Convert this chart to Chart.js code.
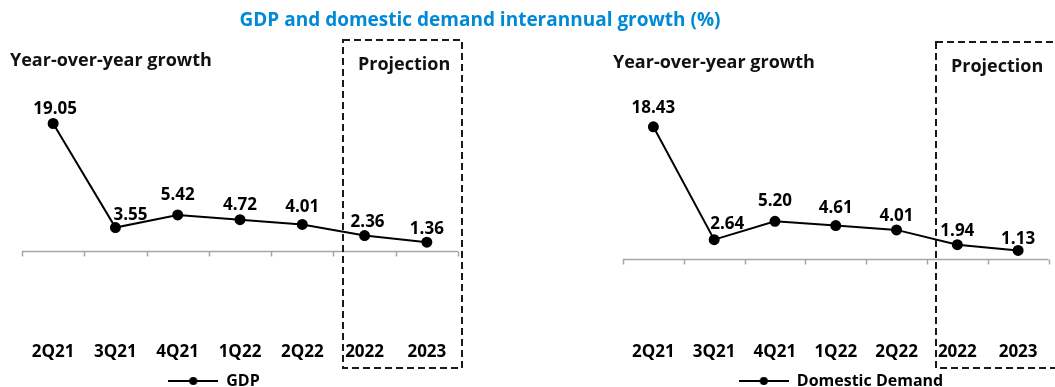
<!DOCTYPE html>
<html>
<head>
<meta charset="utf-8">
<script src="https://cdn.jsdelivr.net/npm/chart.js@4.4.1/dist/chart.umd.min.js"></script>
<style>
  body { margin: 0; background: #fff; }
  #wrap { position: relative; width: 1055px; height: 387px; overflow: hidden; }
  #title {
    position: absolute; top: 6px; left: 0; width: 960px; text-align: center;
    font: bold 19px "Open Sans", sans-serif; color: #0089d6; z-index: 2;
  }
  canvas { position: absolute; top: 0; }
</style>
</head>
<body>
<div id="wrap">
  <div id="title">GDP and domestic demand interannual growth (%)</div>
  <canvas id="gdpChart" width="527" height="387" style="left:0"></canvas>
  <canvas id="ddChart" width="528" height="387" style="left:527px"></canvas>
</div>
<script>
const periods = ["2Q21", "3Q21", "4Q21", "1Q22", "2Q22", "2022", "2023"];
const gdpGrowth = [19.05, 3.55, 5.42, 4.72, 4.01, 2.36, 1.36];
const domesticDemand = [18.43, 2.64, 5.20, 4.61, 4.01, 1.94, 1.13];

const axisTitle = "Year-over-year growth";
const projectionLabel = "Projection";

const FONT = '"Open Sans", sans-serif';

// little line-with-dot marker used as the legend symbol
function makeMarker() {
  const c = document.createElement("canvas");
  c.width = 50; c.height = 10;
  const g = c.getContext("2d");
  g.strokeStyle = "#000"; g.lineWidth = 2;
  g.beginPath(); g.moveTo(0, 5); g.lineTo(50, 5); g.stroke();
  g.fillStyle = "#000";
  g.beginPath(); g.arc(25, 5, 4, 0, Math.PI * 2); g.fill();
  return c;
}
const marker = makeMarker();

// zero line with category tick marks, like an axis crossing at 0
const zeroAxis = {
  id: "zeroAxis",
  beforeDatasetsDraw(chart) {
    const { ctx, chartArea } = chart;
    const x = chart.scales.x, y = chart.scales.y;
    const y0 = Math.round(y.getPixelForValue(0)) + 0.5;
    ctx.save();
    ctx.strokeStyle = "#a6a6a6";
    ctx.lineWidth = 1.5;
    ctx.beginPath();
    ctx.moveTo(chartArea.left, y0);
    ctx.lineTo(chartArea.right, y0);
    for (let i = 0; i <= chart.data.labels.length; i++) {
      const tx = Math.round(x.getPixelForValue(i - 0.5)) + 0.5;
      ctx.moveTo(tx, y0);
      ctx.lineTo(tx, y0 + 5);
    }
    ctx.stroke();
    ctx.restore();
  }
};

// dashed frame around the projected years, plus the two captions
const frames = {
  id: "frames",
  afterDatasetsDraw(chart, args, opts) {
    const { ctx, chartArea } = chart;
    const x = chart.scales.x;
    const left = Math.round(x.getPixelForValue(opts.from));
    const right = Math.round(x.getPixelForValue(opts.to));
    const top = chartArea.top - opts.above;
    const bottom = chart.height - 19;
    ctx.save();
    ctx.strokeStyle = "#1a1a1a";
    ctx.lineWidth = 2;
    ctx.setLineDash([7, 4]);
    ctx.strokeRect(left, top, right - left, bottom - top);
    ctx.setLineDash([]);
    ctx.fillStyle = "#111";
    ctx.font = "bold 18px " + FONT;
    ctx.textBaseline = "middle";
    ctx.textAlign = "left";
    ctx.fillText(projectionLabel, left + 15, top + 25);
    ctx.fillText(axisTitle, opts.titleX, top + 21);
    ctx.restore();
  }
};

// value labels above each point
const valueLabels = {
  id: "valueLabels",
  afterDatasetsDraw(chart, args, opts) {
    const { ctx } = chart;
    const meta = chart.getDatasetMeta(0);
    const values = chart.data.datasets[0].data;
    ctx.save();
    ctx.font = "bold 17px " + FONT;
    ctx.fillStyle = "#000";
    ctx.textAlign = "center";
    ctx.textBaseline = "middle";
    meta.data.forEach((pt, i) => {
      const [dx, dy] = opts.nudge[i];
      ctx.fillText(values[i].toFixed(2), pt.x + dx, pt.y - dy);
    });
    ctx.restore();
  }
};

// move the legend after layout
const legendShift = {
  id: "legendShift",
  afterLayout(chart, args, opts) {
    chart.legend.left += opts.dx;
    chart.legend.right += opts.dx;
    chart.legend.top += opts.dy;
    chart.legend.bottom += opts.dy;
  }
};

function buildChart(id, label, values, cfg) {
  return new Chart(document.getElementById(id), {
    type: "line",
    data: {
      labels: periods,
      datasets: [{
        label: label,
        data: values,
        borderColor: "#000",
        backgroundColor: "#000",
        borderWidth: 2,
        pointRadius: 4.5,
        pointHoverRadius: 4.5,
        tension: 0
      }]
    },
    options: {
      responsive: false,
      animation: false,
      devicePixelRatio: 1,
      layout: { padding: cfg.padding },
      scales: {
        x: {
          offset: true,
          grid: { display: false, drawTicks: false, offset: true },
          border: { display: false },
          ticks: { color: "#000", font: { family: FONT, size: 17, weight: "bold" }, padding: 3 }
        },
        y: { display: false, min: cfg.min, max: cfg.max }
      },
      plugins: {
        legend: {
          position: "bottom",
          labels: {
            usePointStyle: true,
            pointStyleWidth: 50,
            padding: 0,
            color: "#000",
            font: { family: FONT, size: 16, weight: "bold" },
            generateLabels: (chart) =>
              Chart.defaults.plugins.legend.labels.generateLabels(chart)
                .map(item => Object.assign(item, { pointStyle: marker }))
          }
        },
        tooltip: { enabled: false },
        frames: cfg.frame,
        valueLabels: { nudge: cfg.nudge },
        legendShift: { dx: cfg.legendDx, dy: 8 }
      }
    },
    plugins: [zeroAxis, frames, valueLabels, legendShift]
  });
}

buildChart("gdpChart", "GDP", gdpGrowth, {
  padding: { left: 22, right: 69, top: 97, bottom: -4 },
  min: -13, max: 23,
  frame: { from: 4.65, to: 6.56, above: 57, titleX: 10 },
  nudge: [[2, 14], [15, 12], [0, 20], [0, 15], [0, 17], [3, 13], [0, 13]],
  legendDx: -26
});

buildChart("ddChart", "Domestic Demand", domesticDemand, {
  padding: { left: 96, right: 6, top: 97, bottom: -4 },
  min: -11.2, max: 22.6,
  frame: { from: 4.65, to: 7.4, above: 55, titleX: 86 },
  nudge: [[0, 19], [13, 16], [0, 20], [0, 17], [0, 14], [0, 14], [0, 11]],
  legendDx: 5
});
</script>
</body>
</html>
